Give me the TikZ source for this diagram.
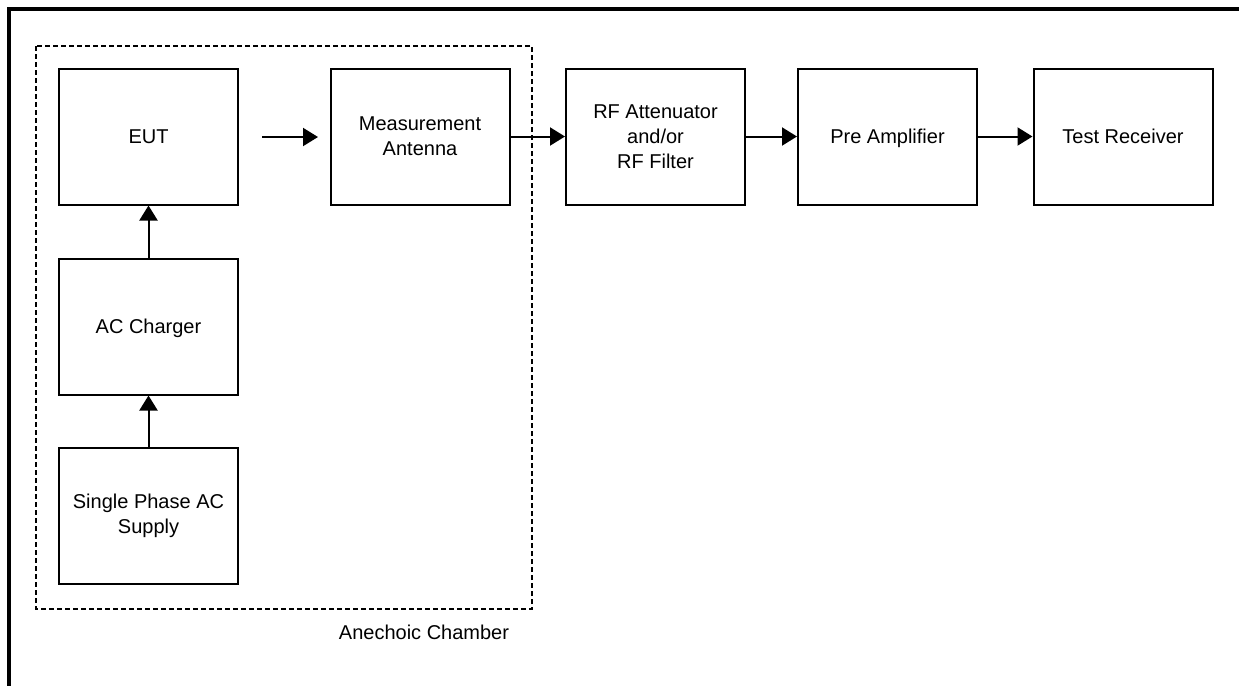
\documentclass[tikz,border=0pt]{standalone}
\usepackage{fontspec}
\setmainfont{Liberation Sans}
\usetikzlibrary{arrows.meta}
\begin{document}
\begin{tikzpicture}[x=0.5pt,y=-0.5pt,
  blk/.style={draw,line width=1pt,minimum width=89.5pt,minimum height=68pt,inner sep=0pt,align=center,font=\fontsize{10}{12.5}\selectfont},
  one/.style={text height=7.2pt,text depth=0pt},
  arr/.style={line width=1pt,-{Triangle[length=7.5pt,width=9pt]}},
  chamber/.style={line width=1.3pt,dash pattern=on 2.5pt off 1.5pt}]
\useasboundingbox (0,0) rectangle (1239,686);
\draw[line width=2.2pt] (9,686) -- (9,9) -- (1239,9);
\node[blk,one] (eut) at (148.5,136.5) {EUT};
\node[blk,one] (acc) at (148.5,326.5) {AC Charger};
\node[blk] (sup) at (148.5,516) {Single Phase AC\\Supply};
\node[blk] (ant) at (420,136.5) {Measurement\\Antenna};
\node[blk] (att) at (655.5,136.5) {RF Attenuator\\and/or\\RF Filter};
\node[blk,one] (pre) at (887.5,136.5) {Pre Amplifier};
\node[blk,one] (rec) at (1123,136.5) {Test Receiver};
\draw[chamber] (36,46) rectangle (532,609);
\node[font=\fontsize{10}{12.5}\selectfont] (lbl) at (424,632) {Anechoic Chamber};
\coordinate (s) at (262,137);
\coordinate (e) at (318,137);
\draw[arr] (s) -- (e);
\draw[arr] (ant) -- (att);
\draw[arr] (att) -- (pre);
\draw[arr] (pre) -- (rec);
\draw[arr] (acc) -- (eut);
\draw[arr] (sup) -- (acc);
\end{tikzpicture}
\end{document}
